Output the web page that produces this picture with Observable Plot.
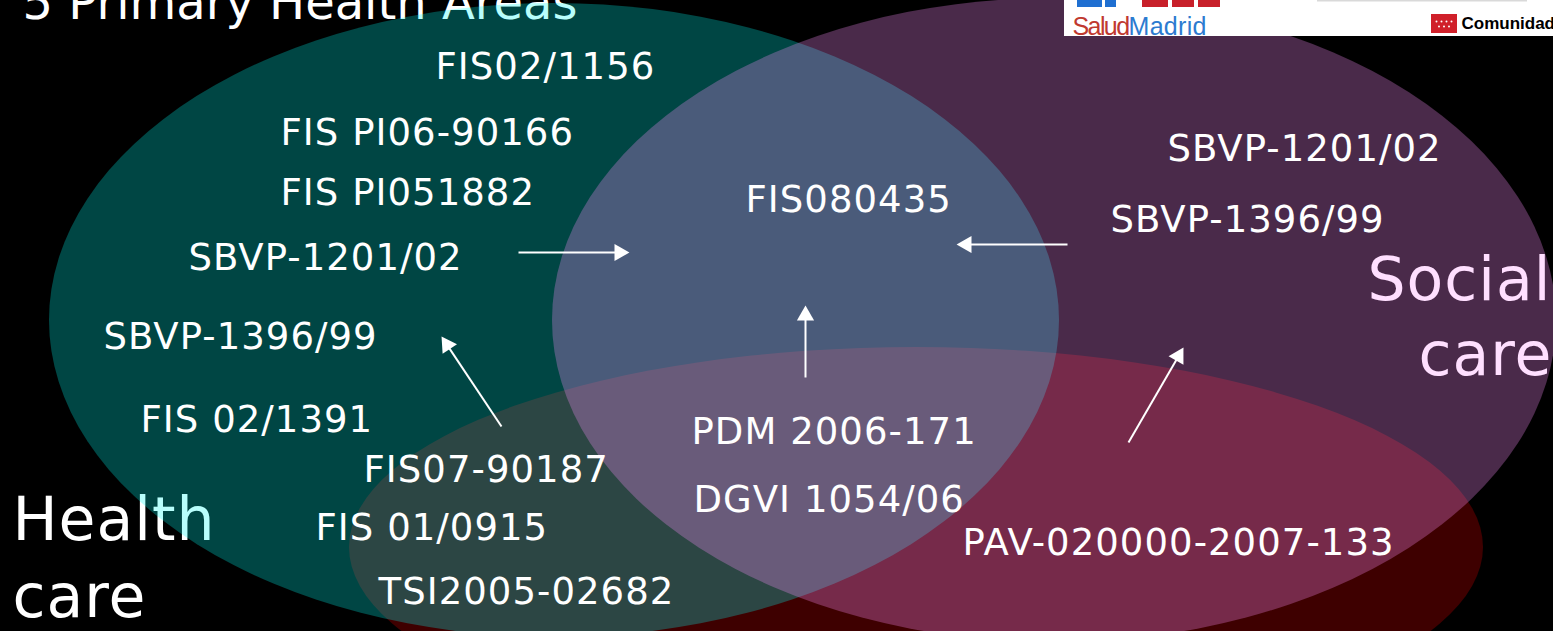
<!DOCTYPE html>
<html>
<head>
<meta charset="utf-8">
<script src="https://cdn.jsdelivr.net/npm/d3@7"></script>
<script src="https://cdn.jsdelivr.net/npm/@observablehq/plot@0.6"></script>
<style>
  html, body { margin: 0; padding: 0; background: #000; overflow: hidden; }
  #chart svg { display: block; }
</style>
</head>
<body>
<div id="chart"></div>
<script>
// ---- Venn sets (data space: 1553 x 631 units, y downward) ----
const setNames = ["Social services", "Health care", "Social care"];
const setCx = [916, 554, 1054];
const setCy = [547, 320, 320];
const setRx = [567, 505, 502];
const setRy = [200, 317, 322];

// ---- Project codes placed in the diagram ----
const projectCodes = [
  "FIS02/1156", "FIS PI06-90166", "FIS PI051882", "SBVP-1201/02", "SBVP-1396/99",
  "FIS 02/1391", "FIS07-90187", "FIS 01/0915", "TSI2005-02682",
  "FIS080435", "PDM 2006-171", "DGVI 1054/06",
  "SBVP-1201/02", "SBVP-1396/99", "PAV-020000-2007-133"
];
const projectX = [435, 280, 280, 188, 103, 140, 363, 315, 378, 745, 691, 693, 1167, 1110, 962];
const projectY = [67, 133, 193, 258, 337, 420, 470, 528, 592, 200, 432, 500, 149, 220, 543];

// ---- Area labels (under the translucent sets) ----
const areaLabels = ["5 Primary Health Areas", "Health", "care", "Social", "care"];
const areaLabelX = [22, 12, 12, 1367, 1418];
const areaLabelY = [3, 520, 597, 280, 355];

// ---- Arrows (from -> tip) ----
const arrowFromX = [518, 1067, 805, 501, 1128];
const arrowFromY = [252, 244, 377, 426, 442];
const arrowToX   = [629, 956, 805, 441, 1183];
const arrowToY   = [252, 244, 305, 336, 347];

// ---- Logo pieces ----
const logoBoxX = [1064, 1553], logoBoxY = [0, 36];
const logoBlockX1 = [1077, 1105, 1142, 1172, 1198];
const logoBlockX2 = [1102, 1116, 1168, 1194, 1220];
const logoBlockY2 = [7, 7, 7, 7, 7];
const logoBlockColor = ["#1f6fd1", "#1f6fd1", "#c8202a", "#c8202a", "#c8202a"];
const flagX = [1431, 1457], flagY = [14, 33];
const starX = [1436, 1441, 1446, 1451, 1438.5, 1443.5, 1448.5];
const starY = [21, 21, 21, 21, 26, 26, 26];

const sets = setNames.map((name, i) => ({name, cx: setCx[i], cy: setCy[i], rx: setRx[i], ry: setRy[i]}));
const projects = projectCodes.map((code, i) => ({code, x: projectX[i], y: projectY[i]}));
const areas = areaLabels.map((t, i) => ({t, x: areaLabelX[i], y: areaLabelY[i], size: i === 0 ? 48 : 60}));
const arrows = arrowFromX.map((x1, i) => {
  const x2 = arrowToX[i], y1 = arrowFromY[i], y2 = arrowToY[i];
  const L = Math.hypot(x2 - x1, y2 - y1), ux = (x2 - x1) / L, uy = (y2 - y1) / L;
  return {x1, y1, x2, y2, ux, uy, angle: Math.atan2(ux, -uy) * 180 / Math.PI};
});
const blocks = logoBlockX1.map((x1, i) => ({x1, x2: logoBlockX2[i], y2: logoBlockY2[i], c: logoBlockColor[i]}));
const stars = starX.map((x, i) => ({x, y: starY[i]}));

const font = "DejaVu Sans, Verdana, sans-serif";
const logoFont = "Liberation Sans, Arial, sans-serif";
const setFill = ["#3e0000", "rgb(0,250,243)", "rgb(255,145,255)"];
const setOpacity = [1, 0.28, 0.29];

const ellipse = (i) => Plot.rect([sets[i]], {
  x1: d => d.cx - d.rx, x2: d => d.cx + d.rx,
  y1: d => d.cy - d.ry, y2: d => d.cy + d.ry,
  fill: setFill[i], fillOpacity: setOpacity[i], rx: 1, ry: 1
});

const HEAD = 10; // distance from triangle centre to its tip

const svg = Plot.plot({
  width: 1553, height: 631, margin: 0,
  x: {domain: [0, 1553], range: [0, 1553], axis: null},
  y: {domain: [0, 631], range: [0, 631], axis: null},
  style: {background: "black", overflow: "hidden"},
  marks: [
    Plot.text(areas, {x: "x", y: "y", text: "t", textAnchor: "start", fill: "white",
      fontSize: d => d.size, fontFamily: font}),
    ellipse(0), ellipse(1), ellipse(2),
    Plot.text(projects, {x: "x", y: "y", text: "code", textAnchor: "start", fill: "white",
      fontSize: 37, fontFamily: font}),
    Plot.link(arrows, {x1: "x1", y1: "y1", x2: d => d.x2 - d.ux * HEAD, y2: d => d.y2 - d.uy * HEAD,
      stroke: "white", strokeWidth: 2}),
    Plot.dot(arrows, {x: d => d.x2 - d.ux * HEAD, y: d => d.y2 - d.uy * HEAD, symbol: "triangle",
      r: 6.4, fill: "white", stroke: "none", rotate: "angle"}),
    // logo
    Plot.rect([0], {x1: logoBoxX[0], x2: logoBoxX[1], y1: logoBoxY[0], y2: logoBoxY[1], fill: "white"}),
    Plot.rect(blocks, {x1: "x1", x2: "x2", y1: 0, y2: "y2", fill: "c"}),
    Plot.rect([0], {x1: 1317, x2: 1527, y1: 0, y2: 1.5, fill: "#d9d9d9"}),
    Plot.text(["Salud"], {x: 1072, y: 26, text: d => d, textAnchor: "start", fill: "#c0392f",
      fontSize: 25, fontFamily: logoFont}),
    Plot.text(["Madrid"], {x: 1128, y: 26, text: d => d, textAnchor: "start", fill: "#2c7bd0",
      fontSize: 25, fontFamily: logoFont}),
    Plot.rect([0], {x1: flagX[0], x2: flagX[1], y1: flagY[0], y2: flagY[1], fill: "#d0202a"}),
    Plot.dot(stars, {x: "x", y: "y", r: 1, fill: "white"}),
    Plot.text(["Comunidad"], {x: 1461, y: 23, text: d => d, textAnchor: "start", fill: "black",
      fontSize: 17, fontWeight: "bold", fontFamily: logoFont})
  ]
});

// turn the set rectangles into ellipses using their rendered size
svg.querySelectorAll("rect[rx]").forEach(r => {
  const w = +r.getAttribute("width"), h = +r.getAttribute("height");
  r.setAttribute("rx", w / 2);
  r.setAttribute("ry", h / 2);
});
const tg = svg.querySelectorAll('g[aria-label="text"]');
if (tg[0]) {
  tg[0].setAttribute("letter-spacing", "1");
  const first = tg[0].querySelector("text");
  if (first) first.setAttribute("letter-spacing", "0");
}
if (tg[1]) tg[1].setAttribute("letter-spacing", "1.05");
if (tg[2]) tg[2].setAttribute("letter-spacing", "-1.6");
if (tg[3]) tg[3].setAttribute("letter-spacing", "0.3");
document.getElementById("chart").append(svg);
</script>
</body>
</html>
